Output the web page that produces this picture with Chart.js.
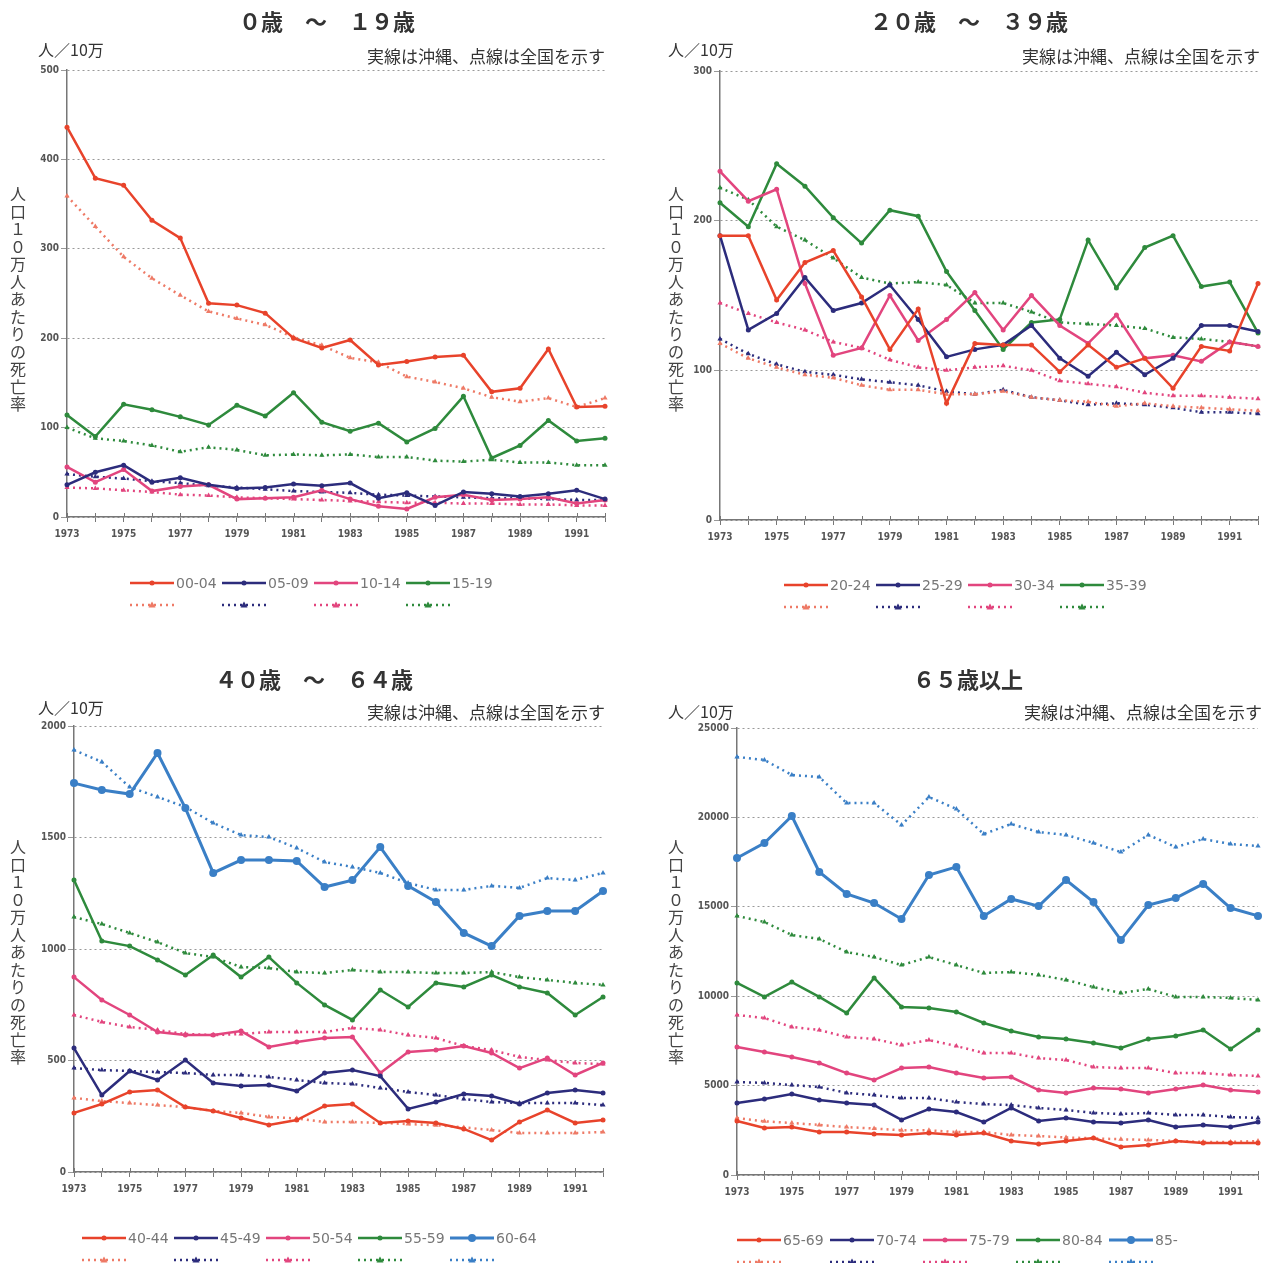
<!DOCTYPE html>
<html>
<head>
<meta charset="utf-8">
<script src="https://cdn.jsdelivr.net/npm/chart.js@4.4.1/dist/chart.umd.min.js"></script>
<style>
body { margin: 0; background: #fff; }
#wrap { position: relative; width: 1274px; height: 1263px; overflow: hidden; background: #fff; }
canvas { position: absolute; }
</style>
</head>
<body>
<div id="wrap">
	<canvas id="c1" width="637" height="655" style="left:0;top:0"></canvas>
	<canvas id="c2" width="637" height="655" style="left:637px;top:0"></canvas>
	<canvas id="c3" width="637" height="605" style="left:0;top:658px"></canvas>
	<canvas id="c4" width="637" height="605" style="left:637px;top:658px"></canvas>
</div>
<script>
'use strict';

const years = ['1973', '1974', '1975', '1976', '1977', '1978', '1979', '1980', '1981', '1982',
	'1983', '1984', '1985', '1986', '1987', '1988', '1989', '1990', '1991', '1992'];
const shownYears = ['1973', '1975', '1977', '1979', '1981', '1983', '1985', '1987', '1989', '1991'];

// 0歳～19歳 (ok = 沖縄, jp = 全国)
const groupsA = ['00-04', '05-09', '10-14', '15-19'];
const okA0004 = [436, 379, 371, 332, 312, 239, 237, 228, 200, 189, 198, 170, 174, 179, 181, 140, 144, 188, 123, 124];
const jpA0004 = [359, 325, 291, 267, 248, 230, 222, 215, 201, 192, 178, 173, 157, 151, 144, 134, 129, 133, 123, 133];
const okA0509 = [36, 50, 58, 39, 44, 36, 32, 33, 37, 35, 38, 21, 27, 13, 28, 26, 23, 26, 30, 20];
const jpA0509 = [48, 45, 43, 40, 38, 35, 33, 31, 29, 28, 27, 25, 24, 23, 22, 21, 21, 20, 19, 19];
const okA1014 = [56, 39, 53, 29, 34, 36, 20, 21, 22, 30, 20, 12, 9, 22, 25, 19, 20, 22, 15, 19];
const jpA1014 = [33, 32, 30, 28, 25, 24, 22, 21, 20, 19, 18, 17, 16, 16, 15, 15, 14, 14, 13, 13];
const okA1519 = [114, 90, 126, 120, 112, 103, 125, 113, 139, 106, 96, 105, 84, 99, 135, 66, 80, 108, 85, 88];
const jpA1519 = [100, 88, 85, 80, 73, 78, 75, 69, 70, 69, 70, 67, 67, 63, 62, 64, 61, 61, 58, 58];

// 20歳～39歳
const groupsB = ['20-24', '25-29', '30-34', '35-39'];
const okB2024 = [190, 190, 147, 172, 180, 149, 114, 141, 78, 118, 117, 117, 99, 117, 102, 108, 88, 116, 113, 158];
const jpB2024 = [118, 108, 102, 97, 95, 90, 87, 87, 84, 84, 86, 82, 80, 79, 76, 78, 76, 75, 74, 73];
const okB2529 = [190, 127, 138, 162, 140, 145, 157, 134, 109, 114, 117, 130, 108, 96, 112, 97, 108, 130, 130, 126];
const jpB2529 = [121, 111, 104, 99, 97, 94, 92, 90, 86, 84, 87, 82, 80, 77, 78, 77, 75, 72, 72, 71];
const okB3034 = [233, 213, 221, 158, 110, 115, 150, 120, 134, 152, 127, 150, 130, 118, 137, 108, 110, 106, 119, 116];
const jpB3034 = [145, 138, 132, 127, 119, 115, 107, 102, 100, 102, 103, 100, 93, 91, 89, 85, 83, 83, 82, 81];
const okB3539 = [212, 196, 238, 223, 202, 185, 207, 203, 166, 140, 114, 132, 134, 187, 155, 182, 190, 156, 159, 125];
const jpB3539 = [222, 214, 196, 187, 175, 162, 158, 159, 157, 145, 145, 139, 132, 131, 130, 128, 122, 121, 119, 116];

// 40歳～64歳
const groupsC = ['40-44', '45-49', '50-54', '55-59', '60-64'];
const okC4044 = [265, 305, 359, 368, 291, 274, 242, 211, 233, 296, 305, 220, 229, 220, 193, 143, 224, 278, 220, 233];
const jpC4044 = [332, 318, 309, 300, 291, 274, 265, 247, 240, 224, 224, 220, 215, 210, 200, 188, 175, 175, 175, 179];
const okC4549 = [556, 345, 453, 413, 502, 399, 386, 390, 363, 444, 457, 430, 283, 314, 350, 341, 305, 354, 368, 354];
const jpC4549 = [466, 457, 453, 448, 444, 435, 435, 426, 413, 399, 395, 377, 359, 345, 327, 314, 309, 309, 309, 300];
const okC5054 = [874, 771, 704, 628, 614, 614, 632, 561, 583, 601, 605, 444, 538, 547, 565, 534, 466, 511, 435, 489];
const jpC5054 = [704, 673, 650, 637, 619, 614, 619, 628, 628, 628, 646, 637, 614, 601, 565, 547, 516, 502, 489, 484];
const okC5559 = [1309, 1036, 1013, 951, 883, 973, 874, 964, 848, 749, 682, 816, 740, 848, 830, 883, 830, 803, 704, 785];
const jpC5559 = [1143, 1112, 1072, 1031, 982, 964, 919, 915, 897, 892, 906, 897, 897, 892, 892, 897, 874, 861, 848, 839];
const okC6064 = [1744, 1713, 1695, 1879, 1632, 1341, 1399, 1399, 1395, 1278, 1309, 1457, 1283, 1211, 1072, 1013, 1148, 1170, 1170, 1260];
const jpC6064 = [1892, 1839, 1726, 1682, 1637, 1565, 1511, 1502, 1453, 1390, 1368, 1341, 1296, 1265, 1265, 1283, 1274, 1318, 1309, 1341];

// 65歳以上
const groupsD = ['65-69', '70-74', '75-79', '80-84', '85-'];
const okD6569 = [3020, 2630, 2680, 2400, 2400, 2290, 2240, 2350, 2240, 2350, 1900, 1730, 1900, 2070, 1570, 1680, 1900, 1790, 1790, 1790];
const jpD6569 = [3190, 3000, 2910, 2800, 2680, 2600, 2500, 2500, 2400, 2400, 2240, 2180, 2100, 2050, 2000, 1960, 1900, 1850, 1850, 1900];
const okD7074 = [4030, 4250, 4530, 4190, 4030, 3910, 3080, 3690, 3520, 2960, 3750, 3020, 3190, 2960, 2910, 3080, 2680, 2800, 2680, 2960];
const jpD7074 = [5200, 5150, 5030, 4920, 4590, 4470, 4300, 4300, 4080, 3970, 3910, 3750, 3640, 3470, 3410, 3470, 3360, 3360, 3240, 3190];
const okD7579 = [7160, 6880, 6600, 6260, 5700, 5310, 5980, 6040, 5700, 5420, 5480, 4750, 4590, 4870, 4810, 4590, 4810, 5030, 4750, 4640];
const jpD7579 = [8950, 8780, 8280, 8110, 7720, 7610, 7270, 7550, 7210, 6820, 6820, 6540, 6430, 6040, 5980, 5980, 5700, 5700, 5590, 5540];
const okD8084 = [10740, 9960, 10790, 9960, 9060, 11020, 9400, 9340, 9120, 8500, 8050, 7720, 7610, 7380, 7100, 7610, 7770, 8110, 7050, 8110];
const jpD8084 = [14490, 14150, 13420, 13200, 12470, 12190, 11740, 12190, 11740, 11300, 11350, 11190, 10910, 10510, 10180, 10400, 9960, 9960, 9900, 9790];
const okD85 = [17730, 18570, 20080, 16950, 15720, 15210, 14320, 16780, 17230, 14490, 15440, 15040, 16500, 15270, 13140, 15100, 15490, 16280, 14930, 14490];
const jpD85 = [23380, 23210, 22370, 22260, 20800, 20800, 19570, 21140, 20470, 19070, 19630, 19180, 19020, 18570, 18060, 19020, 18340, 18790, 18510, 18400];

const colors = ['#e8432b', '#2c2c7c', '#e2457e', '#2e8a3c', '#3a7fc6'];
const jpColors = ['#ee7a66', '#2c2c7c', '#e2457e', '#2e8a3c', '#3a7fc6'];
const yTitle = ['人', '口', '１', '０', '万', '人', 'あ', 'た', 'り', 'の', '死', '亡', '率'];
const tickFont = { family: "'DejaVu Sans Condensed', 'Liberation Sans Narrow', sans-serif", size: 10, weight: 'bold' };
const jpFont = '"Noto Sans CJK JP", sans-serif';

// 見出し・注記・縦書きタイトル・凡例
const decoPlugin = {
	id: 'deco',
	afterDraw(chart, args, o) {
		const ctx = chart.ctx;
		ctx.save();

		// x軸の目盛り（軸の上側にも少し出す）
		const xs = chart.scales.x;
		const bottom = chart.chartArea.bottom;
		ctx.strokeStyle = '#777';
		ctx.lineWidth = 1;
		xs.ticks.forEach((t, i) => {
			const px = Math.round(xs.getPixelForTick(i)) + 0.5;
			ctx.beginPath();
			ctx.moveTo(px, bottom - 4);
			ctx.lineTo(px, bottom);
			ctx.stroke();
		});

		ctx.fillStyle = '#333';
		ctx.textBaseline = 'middle';
		ctx.textAlign = 'center';
		ctx.font = 'bold 22px ' + jpFont;
		ctx.fillText(o.title, o.titleX, 22);

		ctx.textAlign = 'left';
		ctx.font = '16px ' + jpFont;
		ctx.fillText('人／10万', o.unitX, o.unitY);

		ctx.textAlign = 'right';
		ctx.font = '17px ' + jpFont;
		ctx.fillText('実線は沖縄、点線は全国を示す', o.noteX, o.noteY);

		ctx.textAlign = 'center';
		ctx.font = '16px ' + jpFont;
		ctx.fillStyle = '#444';
		yTitle.forEach((ch, i) => ctx.fillText(ch, o.yTitleX, o.yTitleTop + i * 17.5));

		const ds = chart.data.datasets;
		const n = ds.length / 2;
		for (let i = 0; i < n; i++) {
			const ok = ds[i * 2];
			const jp = ds[i * 2 + 1];
			const x = o.legendX + i * o.legendStep;
			let y = o.legendY;
			ctx.setLineDash([]);
			ctx.strokeStyle = ok.borderColor;
			ctx.lineWidth = ok.borderWidth;
			ctx.beginPath();
			ctx.moveTo(x, y);
			ctx.lineTo(x + 44, y);
			ctx.stroke();
			ctx.fillStyle = ok.borderColor;
			ctx.beginPath();
			ctx.arc(x + 22, y, ok.pointRadius, 0, Math.PI * 2);
			ctx.fill();
			ctx.fillStyle = '#777';
			ctx.textAlign = 'left';
			ctx.font = "14px 'DejaVu Sans', sans-serif";
			ctx.fillText(ok.label, x + 46, y + 1);

			y += 22;
			ctx.strokeStyle = jp.borderColor;
			ctx.lineWidth = jp.borderWidth;
			ctx.setLineDash(jp.borderDash);
			ctx.beginPath();
			ctx.moveTo(x, y);
			ctx.lineTo(x + 44, y);
			ctx.stroke();
			ctx.setLineDash([]);
			ctx.fillStyle = jp.borderColor;
			ctx.beginPath();
			ctx.moveTo(x + 22, y - 3.5);
			ctx.lineTo(x + 25.5, y + 2.5);
			ctx.lineTo(x + 18.5, y + 2.5);
			ctx.closePath();
			ctx.fill();
		}
		ctx.restore();
	}
};

const panels = [
	{ id: 'c1', title: '０歳　～　１９歳', groups: groupsA,
		ok: [okA0004, okA0509, okA1014, okA1519], jp: [jpA0004, jpA0509, jpA1014, jpA1519],
		max: 500, step: 100, area: { l: 67, t: 70, r: 605, b: 517 },
		deco: { titleX: 327, unitX: 38, unitY: 50, noteX: 605, noteY: 57, yTitleX: 18, yTitleTop: 194, legendX: 130, legendY: 583, legendStep: 92 } },
	{ id: 'c2', title: '２０歳　～　３９歳', groups: groupsB,
		ok: [okB2024, okB2529, okB3034, okB3539], jp: [jpB2024, jpB2529, jpB3034, jpB3539],
		max: 300, step: 100, area: { l: 83, t: 71, r: 621, b: 520 },
		deco: { titleX: 332, unitX: 31, unitY: 50, noteX: 623, noteY: 57, yTitleX: 39, yTitleTop: 194, legendX: 147, legendY: 585, legendStep: 92 } },
	{ id: 'c3', title: '４０歳　～　６４歳', groups: groupsC,
		ok: [okC4044, okC4549, okC5054, okC5559, okC6064], jp: [jpC4044, jpC4549, jpC5054, jpC5559, jpC6064],
		max: 2000, step: 500, area: { l: 74, t: 68, r: 603, b: 514 },
		deco: { titleX: 314, unitX: 38, unitY: 50, noteX: 605, noteY: 55, yTitleX: 18, yTitleTop: 189, legendX: 82, legendY: 580, legendStep: 92 } },
	{ id: 'c4', title: '６５歳以上', groups: groupsD,
		ok: [okD6569, okD7074, okD7579, okD8084, okD85], jp: [jpD6569, jpD7074, jpD7579, jpD8084, jpD85],
		max: 25000, step: 5000, area: { l: 100, t: 70, r: 621, b: 517 },
		deco: { titleX: 331, unitX: 31, unitY: 54, noteX: 625, noteY: 55, yTitleX: 39, yTitleTop: 189, legendX: 100, legendY: 582, legendStep: 93 } }
];

function makeChart(p) {
	const canvas = document.getElementById(p.id);
	const W = canvas.width, H = canvas.height;
	const XH = 25;
	const datasets = [];
	p.groups.forEach((g, i) => {
		const big = i === 4;
		datasets.push({
			label: g, data: p.ok[i], order: 0,
			borderColor: colors[i], backgroundColor: colors[i],
			borderWidth: big ? 3 : 2.5, pointRadius: big ? 4 : 2.5,
			pointStyle: 'circle', pointBorderWidth: 0, tension: 0
		});
		datasets.push({
			label: g + '（全国）', data: p.jp[i], order: 1,
			borderColor: jpColors[i], backgroundColor: jpColors[i],
			borderWidth: 2.5, borderDash: [2, 4], pointRadius: 3,
			pointStyle: 'triangle', pointBorderWidth: 0, tension: 0
		});
	});
	new Chart(canvas.getContext('2d'), {
		type: 'line',
		data: { labels: years, datasets: datasets },
		options: {
			responsive: false,
			animation: false,
			layout: { padding: { left: 0, top: p.area.t, right: W - p.area.r, bottom: H - p.area.b - XH } },
			plugins: {
				legend: { display: false },
				tooltip: { enabled: false },
				deco: Object.assign({ title: p.title }, p.deco)
			},
			scales: {
				x: {
					afterFit: (s) => { s.height = XH; },
					grid: { drawOnChartArea: false, tickLength: 5, color: '#777' },
					border: { color: '#777', width: 1.5 },
					ticks: {
						autoSkip: false, maxRotation: 0, padding: 6, color: '#555', font: tickFont,
						callback: (v, i) => shownYears.includes(years[i]) ? years[i] : ''
					}
				},
				y: {
					min: 0, max: p.max,
					afterFit: (s) => { s.width = p.area.l; },
					grid: { color: '#999', lineWidth: 1, tickLength: 6 },
					border: { color: '#777', width: 1.5, dash: [2, 3] },
					ticks: { stepSize: p.step, padding: 2, color: '#555', font: tickFont, callback: (v) => String(v) }
				}
			}
		},
		plugins: [decoPlugin]
	});
}

window.addEventListener('load', function() {
	panels.forEach(makeChart);
}, false);
</script>
</body>
</html>
